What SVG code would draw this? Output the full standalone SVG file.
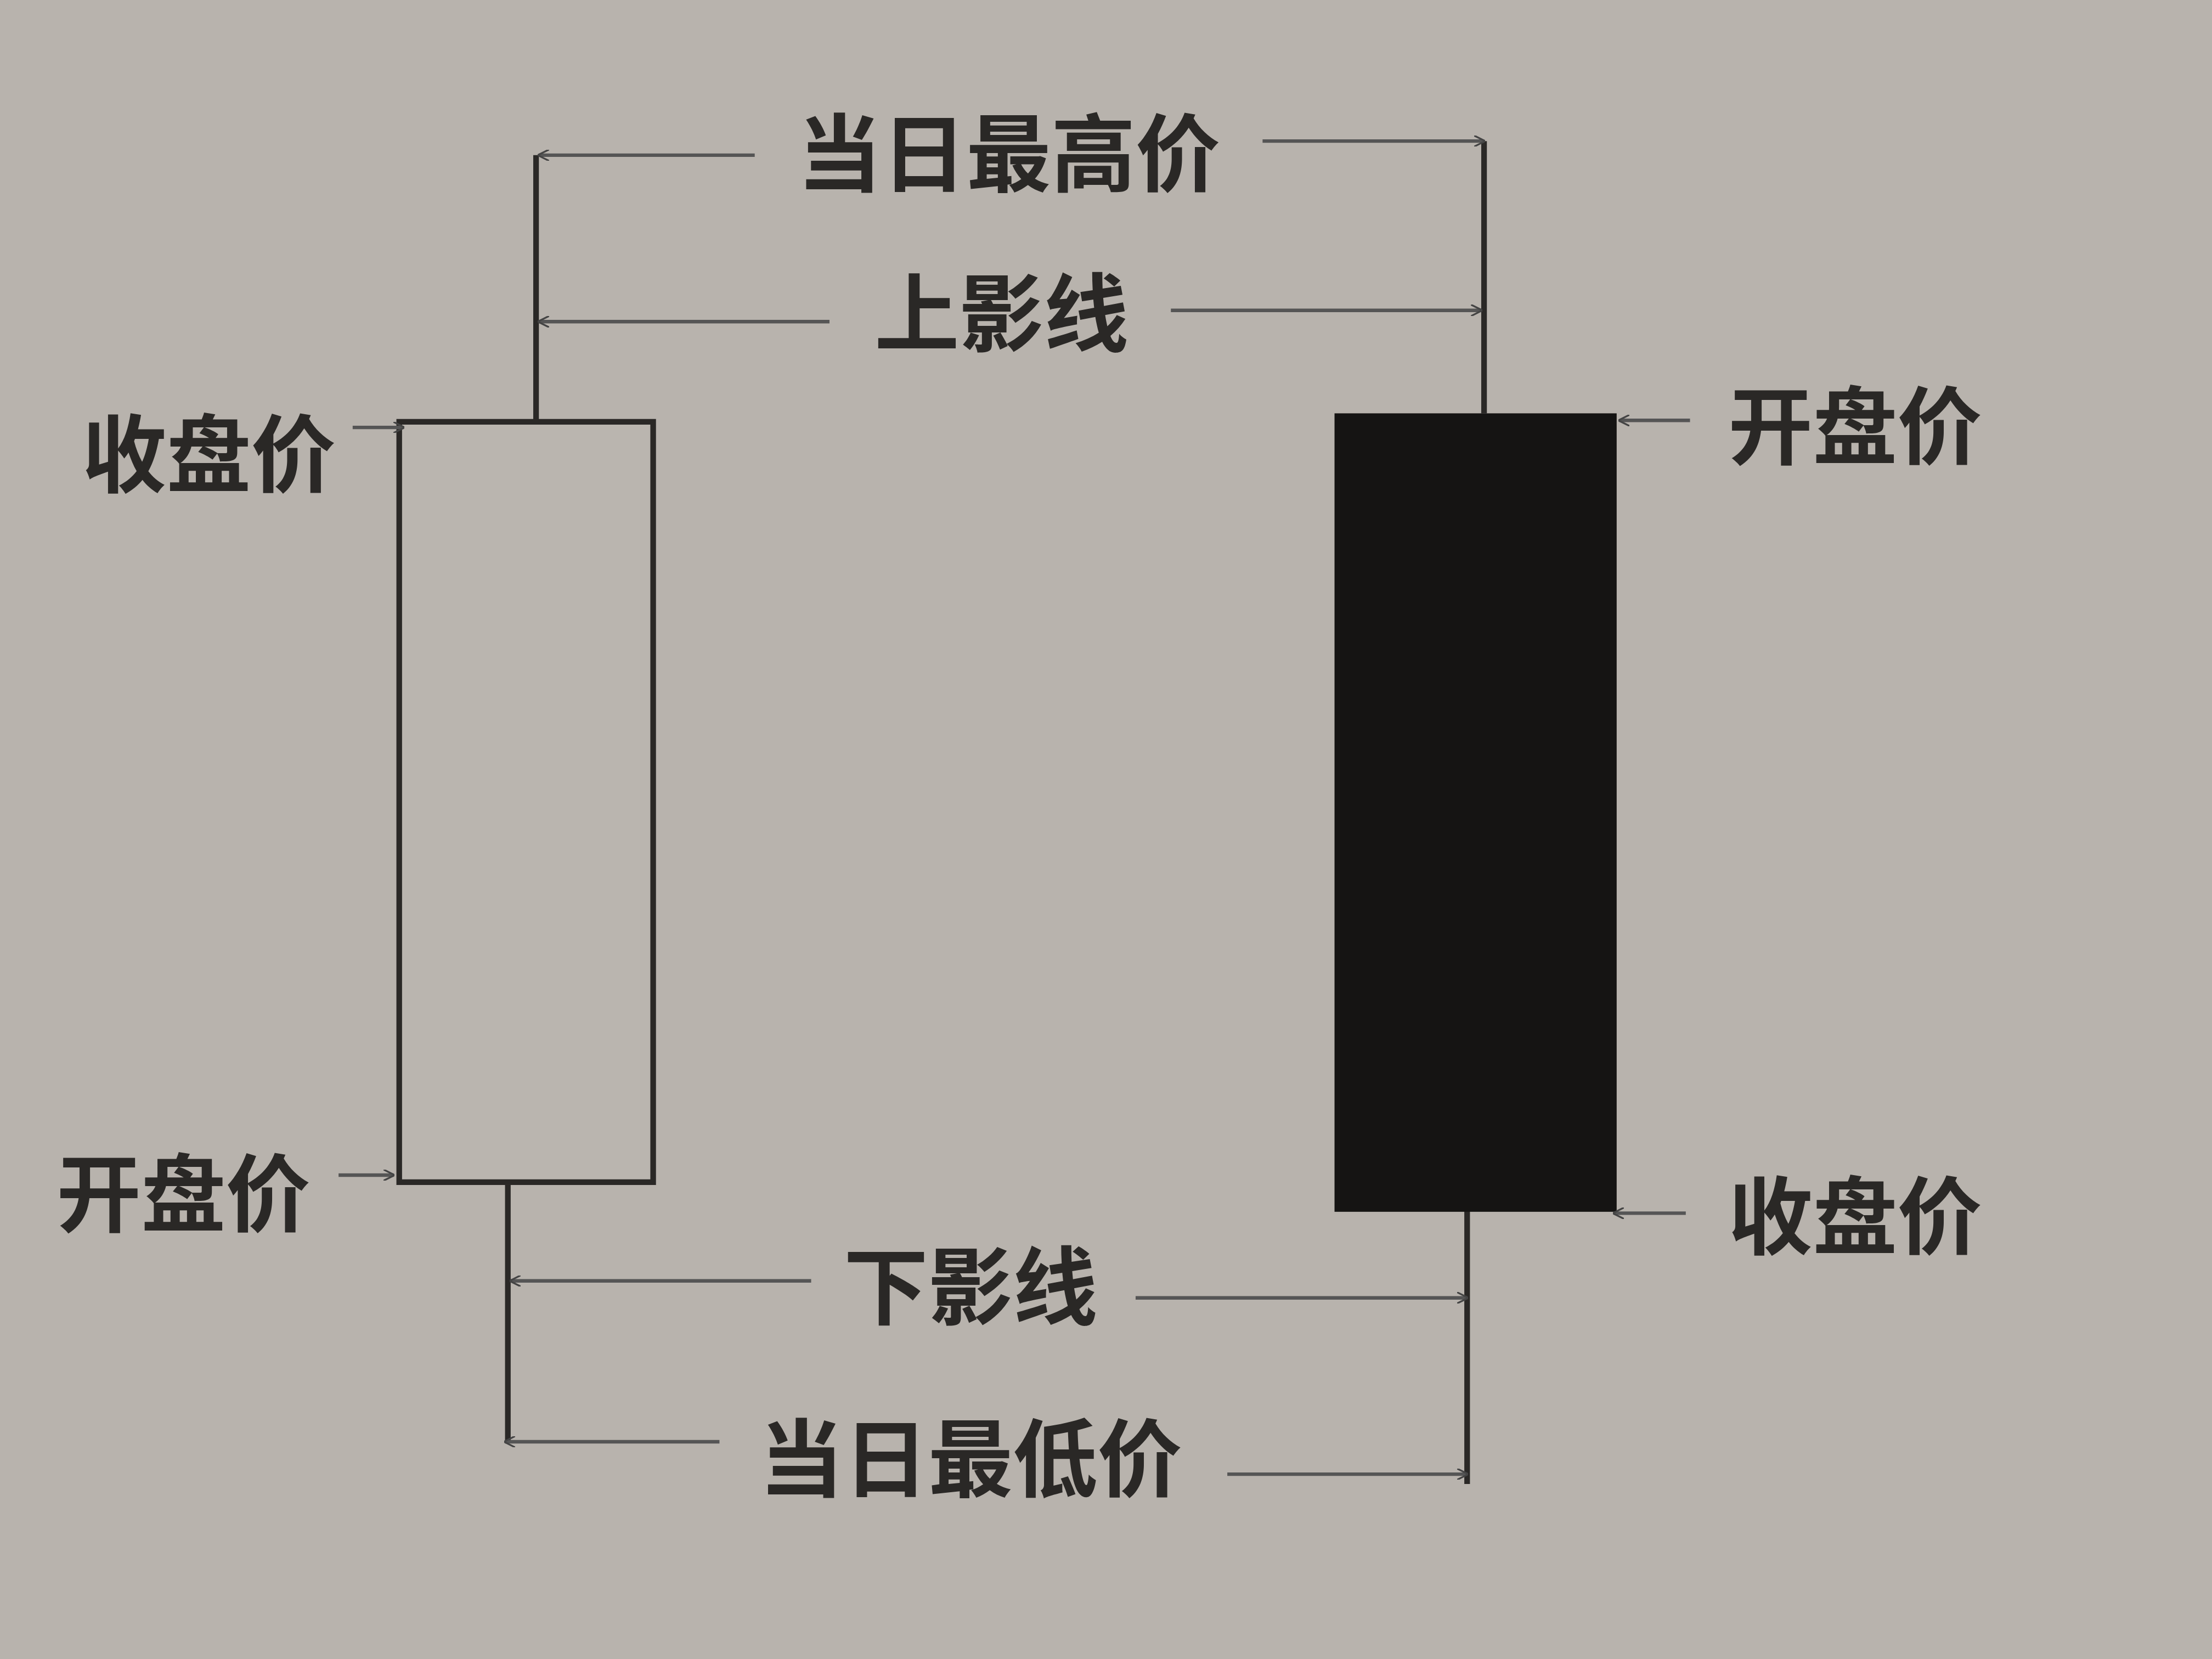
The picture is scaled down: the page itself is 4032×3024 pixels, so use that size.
<svg xmlns="http://www.w3.org/2000/svg" width="4032" height="3024" viewBox="0 0 4032 3024">
<defs>
<marker id="ah" viewBox="0 0 10 10" refX="9" refY="5" markerWidth="8" markerHeight="8" orient="auto" markerUnits="userSpaceOnUse"><path d="M0,0 L10,5 L0,10" fill="none" stroke="#444" stroke-width="1.6"/></marker>
<style>
.t{font-family:"Noto Sans CJK SC","Noto Sans",sans-serif;font-weight:bold;font-size:60px;fill:#2a2826;text-anchor:middle;dominant-baseline:central}
.c{stroke:#555;stroke-width:2.5;fill:none;marker-end:url(#ah)}
.w{stroke:#2a2826;stroke-width:4;fill:none}
</style>
</defs>
<rect width="4032" height="3024" fill="#b8b3ad"/>
<g transform="scale(2.5714)">
<g id="left-candle">
<path class="w" d="M380,110 V298 M360,840 V1022"/>
<rect x="283" y="299" width="180" height="539" fill="#bab5af" stroke="#2a2826" stroke-width="4"/>
</g>
<g id="right-candle">
<path class="w" d="M1052,100 V293 M1040,858 V1052"/>
<rect x="946" y="293" width="200" height="566" fill="#151413"/>
</g>
<g id="connectors">
<path class="c" d="M535,110 H382"/><path class="c" d="M895,100 H1052"/>
<path class="c" d="M588,228 H382"/><path class="c" d="M830,220 H1050"/>
<path class="c" d="M250,303 H286"/><path class="c" d="M240,833 H279"/>
<path class="c" d="M1198,298 H1148"/><path class="c" d="M1195,860 H1144"/>
<path class="c" d="M575,908 H362"/><path class="c" d="M805,920 H1040"/>
<path class="c" d="M510,1022 H358"/><path class="c" d="M870,1045 H1040"/>
</g>
<g id="lbl-high"><text class="t" x="715" y="105">当日最高价</text></g>
<g id="lbl-upper"><text class="t" x="710" y="218">上影线</text></g>
<g id="lbl-close-l"><text class="t" x="148" y="318">收盘价</text></g>
<g id="lbl-open-l"><text class="t" x="130" y="842">开盘价</text></g>
<g id="lbl-open-r"><text class="t" x="1315" y="298">开盘价</text></g>
<g id="lbl-close-r"><text class="t" x="1315" y="858">收盘价</text></g>
<g id="lbl-lower"><text class="t" x="688" y="908">下影线</text></g>
<g id="lbl-low"><text class="t" x="688" y="1030">当日最低价</text></g>
</g>
</svg>
